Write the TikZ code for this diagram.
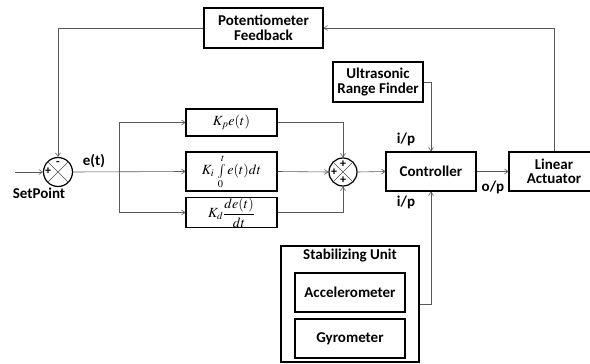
\documentclass[tikz,border=0pt]{standalone}
\usepackage{amsmath}
\usepackage{mathptmx}
\usepackage[no-math]{fontspec}
\setmainfont{Carlito}
\usetikzlibrary{arrows.meta}
\begin{document}
\begin{tikzpicture}[x=1pt,y=-1pt,
  box/.style={draw=black,line width=1.1pt,fill=white,inner sep=0pt,align=center,font=\fontsize{15}{14.5}\selectfont\bfseries},
  mbox/.style={draw=black,line width=1.1pt,fill=white,inner sep=0pt,align=center,font=\fontsize{14}{15}\selectfont},
  conn/.style={draw=black!65,line width=0.6pt,-{Straight Barb[length=3.5pt,width=5pt]}},
  sumj/.style={circle,draw=black,line width=1.2pt,minimum size=29pt,inner sep=0pt},
  lbl/.style={font=\fontsize{15}{15}\selectfont\bfseries,inner sep=0pt},
  sgn/.style={font=\fontsize{12}{12}\selectfont\bfseries,inner sep=0pt}]
\useasboundingbox (0,0) rectangle (590,364);

% blocks
\node[box,minimum width=119pt,minimum height=40pt] (pot) at (263.5,28) {Potentiometer\\Feedback};
\node[box,minimum width=90pt,minimum height=40pt] (ultra) at (378,82) {Ultrasonic\\Range Finder};
\node[box,minimum width=90pt,minimum height=39pt] (ctrl) at (431,171.5) {Controller};
\node[box,minimum width=90pt,minimum height=39pt] (act) at (554,171.5) {Linear\\Actuator};

\node[mbox,minimum width=91pt,minimum height=27pt] (kp) at (231.5,122.5) {$K_{p}e(t)$};
\node[mbox,minimum width=91pt,minimum height=39pt] (ki) at (231.5,171.5) {$K_{i}\,\int\limits_{0}^{t}e(t)dt$};
\node[mbox,minimum width=91pt,minimum height=27pt] (kd) at (231.5,212.5) {$K_{d}\dfrac{de(t)}{dt}$};

\node[box,minimum width=138pt,minimum height=116pt] (stab) at (350,304) {};
\node[lbl] (stabt) at (350,256) {Stabilizing Unit};
\node[box,minimum width=110pt,minimum height=39pt] (acc) at (350,292.5) {Accelerometer};
\node[box,minimum width=110pt,minimum height=39pt] (gyro) at (350,338.5) {Gyrometer};

% summing junctions
\node[sumj] (s1) at (58,172) {};
\draw[line width=0.7pt,black!70] (s1.north east) -- (s1.south west) (s1.north west) -- (s1.south east);
\node[sgn] (s1p) at (48,171.5) {+};
\node[sgn] (s1m) at (58,163.5) {-};

\node[sumj,minimum size=28pt] (s2) at (343,172) {};
\draw[line width=0.7pt,black!70] (s2.north east) -- (s2.south west) (s2.north west) -- (s2.south east);
\node[sgn] (s2t) at (343,164) {+};
\node[sgn] (s2l) at (334,172) {+};
\node[sgn] (s2b) at (343,180.5) {+};

% labels
\node[lbl] (sp) at (39,193) {SetPoint};
\node[lbl] (et) at (94,161) {e(t)};
\node[lbl] (ip1) at (406,139) {i/p};
\node[lbl] (ip2) at (406,202) {i/p};
\node[lbl] (op) at (493,187) {o/p};

% connectors
\coordinate (in) at (15,172);
\coordinate (br) at (119,172);
\draw[conn] (in) -- (s1.west);
\draw[conn] (s1.east) -- (ki.west);
\draw[conn] (br) |- (kp.west);
\draw[conn] (br) |- (kd.west);
\draw[conn] (kp.east) -| (s2.north);
\draw[conn] (ki.east) -- (s2.west);
\draw[conn] (kd.east) -| (s2.south);
\draw[conn] (s2.east) -- (ctrl.west);
\draw[conn] (ultra.east) -| (ctrl.north);
\draw[conn] (stab.east) -| (ctrl.south);
\draw[conn] (ctrl.east) -- (act.west);
\draw[conn] (act.north) |- (pot.east);
\draw[conn] (pot.west) -| (s1.north);
\end{tikzpicture}
\end{document}
